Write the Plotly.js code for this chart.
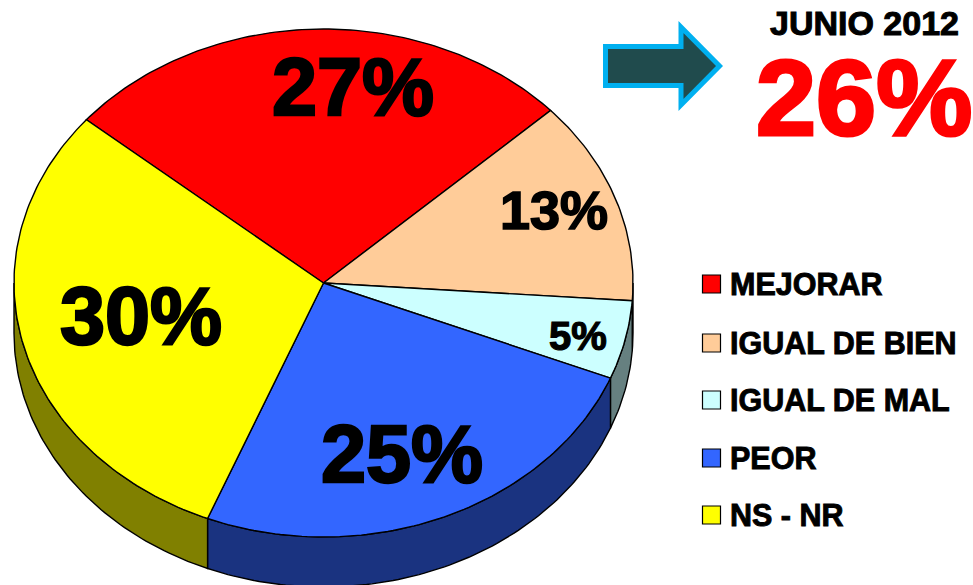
<!DOCTYPE html>
<html>
<head>
<meta charset="utf-8">
<script src="https://cdn.plot.ly/plotly-3.0.1.min.js"></script>
<style>html,body{margin:0;padding:0;background:#fff;overflow:hidden}#chart{width:973px;height:585px}</style>
</head>
<body>
<div id="chart"></div>
<script>
const categories = ['MEJORAR', 'IGUAL DE BIEN', 'IGUAL DE MAL', 'PEOR', 'NS - NR'];
const values = [27, 13, 5, 25, 30];
const topColors = ['#FF0000', '#FFCC99', '#CCFFFF', '#3366FF', '#FFFF00'];
const sideColors = ['#800000', '#806650', '#668080', '#1A3380', '#808000'];
const valueLabels = ['27%', '13%', '5%', '25%', '30%'];
const labelX = [352.5, 553.5, 578, 402, 140.5];
const labelY = [87, 210, 336, 454, 316];
const labelSize = [81, 54, 40, 81, 81];
const legendY = [284, 343, 400, 458, 515];
const calloutTitle = 'JUNIO 2012';
const calloutValue = '26%';

const cx = 323.5, cy = 283, rx = 309.5, ry = 254, depth = 50, startDeg = -50;
const pt = (deg, dy) => {
  const a = deg * Math.PI / 180;
  return [cx + rx * Math.sin(a), cy - ry * Math.cos(a) + (dy || 0)];
};
const total = values.reduce((a, b) => a + b, 0);
const sides = [], tops = [];
let cum = startDeg;
values.forEach((v, i) => {
  const a0 = cum, a1 = cum + v / total * 360;
  cum = a1;
  const s0 = Math.max(a0, 90), s1 = Math.min(a1, 270);
  if (s1 > s0) {
    const xs = [], ys = [];
    for (let d = s0; d < s1; d += 1) { const p = pt(d); xs.push(p[0]); ys.push(p[1]); }
    let p = pt(s1); xs.push(p[0]); ys.push(p[1]);
    for (let d = s1; d > s0; d -= 1) { p = pt(d, depth); xs.push(p[0]); ys.push(p[1]); }
    p = pt(s0, depth); xs.push(p[0]); ys.push(p[1]);
    p = pt(s0); xs.push(p[0]); ys.push(p[1]);
    sides.push({x: xs, y: ys, mode: 'lines', fill: 'toself', fillcolor: sideColors[i],
      line: {color: '#000', width: 1.4}, hoverinfo: 'skip', showlegend: false});
  }
  const xs = [cx], ys = [cy];
  for (let d = a0; d < a1; d += 1) { const p = pt(d); xs.push(p[0]); ys.push(p[1]); }
  const e = pt(a1); xs.push(e[0], cx); ys.push(e[1], cy);
  tops.push({x: xs, y: ys, mode: 'lines', fill: 'toself', fillcolor: topColors[i], name: categories[i],
    line: {color: '#000', width: 1.4}, hoverinfo: 'skip', showlegend: false});
});

const legendMarks = {
  x: categories.map(() => 711.5), y: legendY, mode: 'markers', hoverinfo: 'skip', showlegend: false,
  marker: {symbol: 'square', size: 18, color: topColors, line: {color: '#000', width: 1.2}}
};

const font = 'Liberation Sans, Arial, sans-serif';
const annotations = [];
valueLabels.forEach((t, i) => annotations.push({x: labelX[i], y: labelY[i], text: '<b>' + t + '</b>', showarrow: false,
  xanchor: 'center', yanchor: 'middle', font: {family: font, size: labelSize[i], color: '#000'}}));
categories.forEach((t, i) => annotations.push({x: 727.5, y: legendY[i], text: '<b>' + t + '</b>', showarrow: false,
  xanchor: 'left', yanchor: 'middle', font: {family: font, size: 30.5, color: '#000'}}));
annotations.push({x: 864, y: 23, text: '<b>' + calloutTitle + '</b>', showarrow: false, xanchor: 'center', yanchor: 'middle',
  font: {family: font, size: 34, color: '#000'}});
annotations.push({x: 863.5, y: 97, text: '<b>' + calloutValue + '</b>', showarrow: false, xanchor: 'center', yanchor: 'middle',
  font: {family: font, size: 108, color: '#FF0000'}});

const arrowPath = 'M605.5,46.5 L681,46.5 L681,27 L719.5,66 L681,105 L681,85.5 L605.5,85.5 Z';
const layout = {
  width: 973, height: 585, margin: {l: 0, r: 0, t: 0, b: 0},
  paper_bgcolor: '#fff', plot_bgcolor: '#fff', showlegend: false,
  xaxis: {range: [0, 973], visible: false, fixedrange: true},
  yaxis: {range: [585, 0], visible: false, fixedrange: true},
  shapes: [{type: 'path', path: arrowPath, xref: 'x', yref: 'y', fillcolor: '#204B4D', line: {color: '#00B0F0', width: 5}}],
  annotations
};
Plotly.newPlot('chart', sides.concat(tops, [legendMarks]), layout, {displayModeBar: false, staticPlot: true}).then(() => {
  document.querySelectorAll('.annotation-text').forEach(t => {
    const size = parseFloat(t.style.fontSize) || 30;
    t.style.stroke = t.style.fill;
    t.style.strokeWidth = (size * 0.03).toFixed(2) + 'px';
  });
});
</script>
</body>
</html>
